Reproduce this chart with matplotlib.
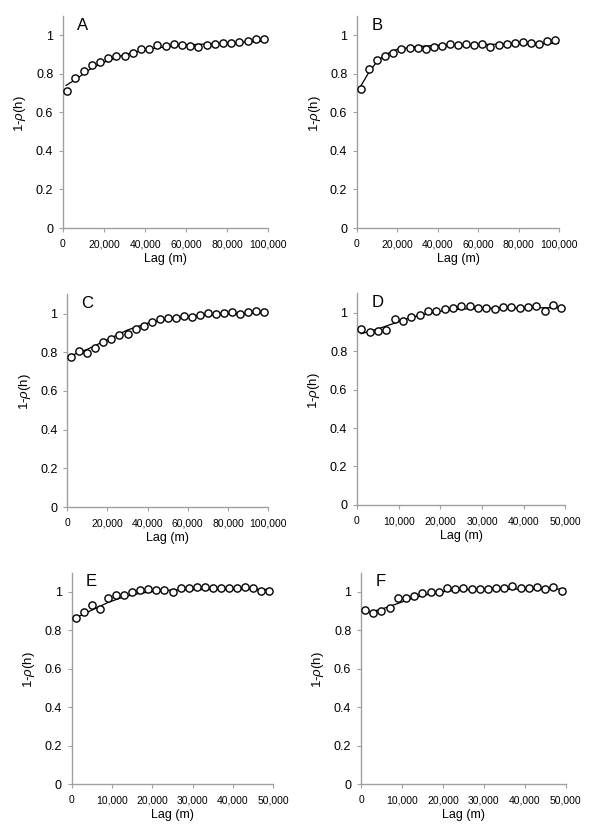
import matplotlib
matplotlib.use("Agg")
import matplotlib.pyplot as plt
from matplotlib.ticker import FuncFormatter

plt.rcParams['font.family'] = ['Liberation Sans', 'DejaVu Sans']
plt.rcParams['mathtext.fontset'] = 'custom'
plt.rcParams['mathtext.it'] = 'Liberation Sans:italic'
plt.rcParams['mathtext.rm'] = 'Liberation Sans'

# lag classes (m)
lag_long = [2000, 6000, 10000, 14000, 18000, 22000, 26000, 30000, 34000, 38000, 42000, 46000, 50000,
            54000, 58000, 62000, 66000, 70000, 74000, 78000, 82000, 86000, 90000, 94000, 98000]
lag_short = [1000, 3000, 5000, 7000, 9000, 11000, 13000, 15000, 17000, 19000, 21000, 23000, 25000,
             27000, 29000, 31000, 33000, 35000, 37000, 39000, 41000, 43000, 45000, 47000, 49000]

# observed 1-rho(h)
obs_A = [0.71, 0.78, 0.814, 0.844, 0.861, 0.884, 0.892, 0.892, 0.906, 0.927, 0.927, 0.948, 0.944,
         0.953, 0.948, 0.944, 0.939, 0.948, 0.957, 0.958, 0.962, 0.967, 0.970, 0.979, 0.983]
obs_B = [0.719, 0.826, 0.872, 0.892, 0.906, 0.931, 0.932, 0.932, 0.927, 0.939, 0.944, 0.957, 0.948,
         0.953, 0.948, 0.953, 0.939, 0.948, 0.957, 0.962, 0.965, 0.962, 0.957, 0.970, 0.974]
obs_C = [0.774, 0.808, 0.798, 0.824, 0.851, 0.867, 0.889, 0.894, 0.918, 0.937, 0.955, 0.970, 0.978,
         0.978, 0.987, 0.984, 0.992, 1.001, 0.996, 1.001, 1.006, 0.997, 1.006, 1.014, 1.006]
obs_D = [0.915, 0.898, 0.903, 0.910, 0.966, 0.955, 0.975, 0.987, 1.006, 1.006, 1.018, 1.023, 1.032,
         1.035, 1.023, 1.023, 1.018, 1.030, 1.030, 1.022, 1.030, 1.035, 1.009, 1.039, 1.022]
obs_E = [0.862, 0.896, 0.931, 0.910, 0.966, 0.983, 0.983, 0.997, 1.009, 1.015, 1.009, 1.009, 0.997,
         1.018, 1.018, 1.027, 1.027, 1.022, 1.018, 1.022, 1.022, 1.027, 1.018, 1.006, 1.006]
obs_F = [0.905, 0.891, 0.900, 0.917, 0.966, 0.966, 0.980, 0.992, 0.997, 0.997, 1.018, 1.013, 1.022,
         1.013, 1.015, 1.013, 1.018, 1.022, 1.032, 1.022, 1.022, 1.027, 1.015, 1.027, 1.004]

# fitted model curves
fit_x_long = [1500, 6000, 10000, 14000, 20000, 30000, 40000, 50000, 60000, 80000, 100000]
fit_A = [0.74, 0.77, 0.80, 0.83, 0.86, 0.90, 0.925, 0.94, 0.95, 0.96, 0.97]
fit_B = [0.73, 0.81, 0.865, 0.90, 0.928, 0.942, 0.948, 0.95, 0.952, 0.955, 0.958]
fit_C = [0.78, 0.80, 0.815, 0.835, 0.865, 0.915, 0.95, 0.97, 0.985, 0.998, 1.005]
fit_x_short = [1000, 5000, 9000, 13000, 17000, 21000, 25000, 30000, 40000, 50000]
fit_D = [0.89, 0.915, 0.945, 0.975, 0.995, 1.01, 1.018, 1.022, 1.025, 1.025]
fit_E = [0.865, 0.905, 0.945, 0.975, 0.993, 1.004, 1.01, 1.012, 1.013, 1.013]
fit_F = [0.89, 0.91, 0.94, 0.97, 0.99, 1.004, 1.011, 1.014, 1.015, 1.015]

panels = [
    ("A", lag_long, obs_A, fit_x_long, fit_A, 100000, [0.105, 0.7253, 0.342, 0.2554]),
    ("B", lag_long, obs_B, fit_x_long, fit_B, 100000, [0.595, 0.7253, 0.337, 0.2554]),
    ("C", lag_long, obs_C, fit_x_long, fit_C, 100000, [0.112, 0.389, 0.335, 0.2566]),
    ("D", lag_short, obs_D, fit_x_short, fit_D, 50000, [0.595, 0.3916, 0.3475, 0.255]),
    ("E", lag_short, obs_E, fit_x_short, fit_E, 50000, [0.1195, 0.0554, 0.336, 0.2546]),
    ("F", lag_short, obs_F, fit_x_short, fit_F, 50000, [0.6017, 0.0554, 0.341, 0.2546]),
]

gray = "#a0a0a0"
fig = plt.figure(figsize=(6, 8.3), dpi=100)

for letter, lx, ly, fx, fy, xmax, pos in panels:
    ax = fig.add_axes(pos)
    ax.plot(fx, fy, color="black", lw=0.9, zorder=2)
    ax.plot(lx, ly, "o", ms=5.2, mfc="white", mec="black", mew=1.0, zorder=3, clip_on=False)
    ax.set_xlim(0, xmax)
    ax.set_ylim(0, 1.1)
    ax.set_yticks([0, 0.2, 0.4, 0.6, 0.8, 1.0])
    ax.set_yticklabels(["0", "0.2", "0.4", "0.6", "0.8", "1"])
    step = xmax // 5
    ax.set_xticks(range(0, xmax + 1, step))
    ax.xaxis.set_major_formatter(FuncFormatter(lambda v, p: f"{int(v):,}"))
    for s in ["top", "right"]:
        ax.spines[s].set_visible(False)
    for s in ["left", "bottom"]:
        ax.spines[s].set_color(gray)
        ax.spines[s].set_linewidth(1.0)
    ax.tick_params(axis="both", direction="out", length=3, width=0.8, color=gray)
    ax.tick_params(axis="x", labelsize=7.5, pad=5)
    ax.tick_params(axis="y", labelsize=9, pad=4)
    ax.set_xlabel("Lag (m)", fontsize=9, labelpad=3)
    ax.set_ylabel("1-$\\it{\\rho}$(h)", fontsize=9.5)
    ax.yaxis.set_label_coords(-0.17, 0.54)
    ax.text(0.07, 0.935, letter, transform=ax.transAxes, fontsize=12, va="baseline", ha="left")

fig.savefig("out.png", dpi=100)
